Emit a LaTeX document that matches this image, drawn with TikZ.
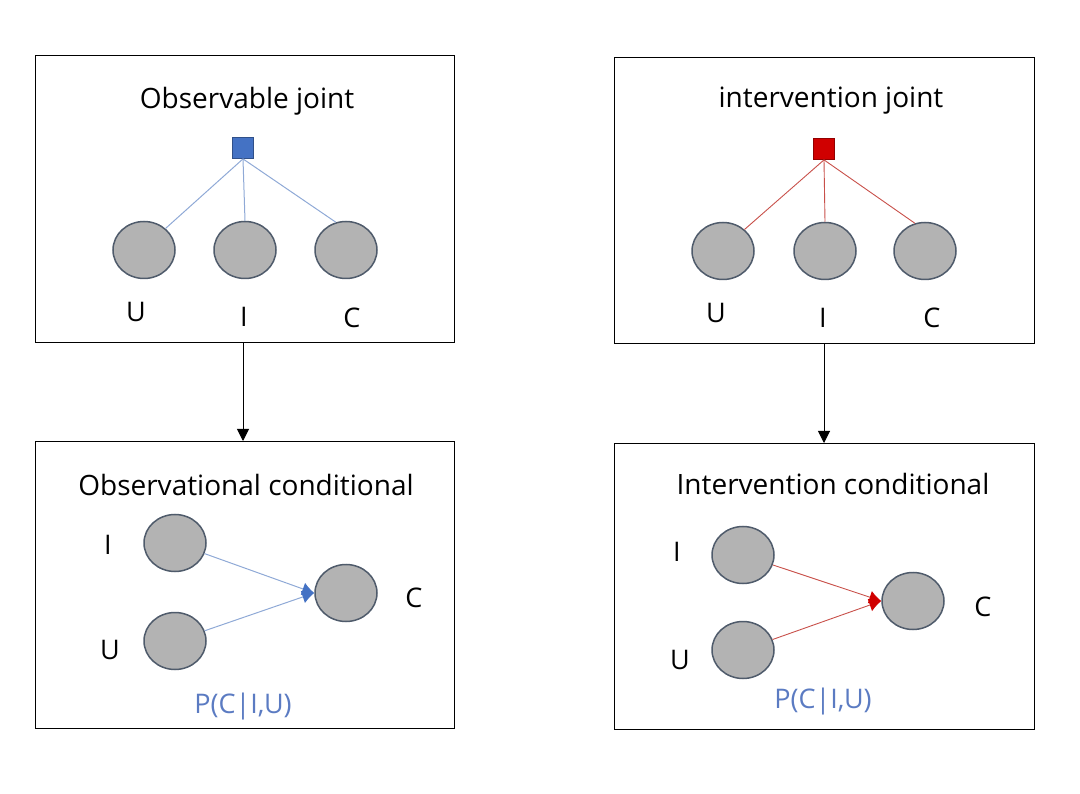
\documentclass[tikz,border=0pt]{standalone}
\usepackage{fontspec}
\setmainfont{Open Sans}
\usetikzlibrary{shapes.geometric,arrows.meta}
\definecolor{bsq}{HTML}{4472C4}
\definecolor{bedge}{HTML}{8FA9D6}
\definecolor{rsq}{HTML}{D00000}
\definecolor{redge}{HTML}{C8504A}
\definecolor{cfill}{HTML}{B3B3B3}
\definecolor{cdraw}{HTML}{4F5B6B}
\definecolor{ptext}{HTML}{5B7BC2}
\tikzset{
  panel/.style={draw=black, line width=1pt},
  var/.style={ellipse, draw=cdraw, line width=1.5pt, fill=cfill, minimum width=62pt, minimum height=57pt, inner sep=0pt},
  lbl/.style={font=\fontsize{27}{30}\selectfont, inner sep=0pt},
  ttl/.style={font=\fontsize{28}{32}\selectfont, inner sep=0pt},
  factor/.style={draw=#1!70!black, fill=#1, minimum size=21pt, inner sep=0pt, line width=0.8pt},
  bline/.style={draw=bedge, line width=1pt},
  rline/.style={draw=redge, line width=0.9pt},
  flow/.style={draw=black, line width=1pt, -{Triangle[length=12pt, width=12pt]}},
}
\begin{document}
\begin{tikzpicture}[x=1pt, y=-1pt]
\useasboundingbox (0,0) rectangle (1080,794);
% panels
\node[panel, minimum width=419pt, minimum height=287pt, anchor=north west, inner sep=0pt] (tl) at (35,55) {};
\node[panel, minimum width=420pt, minimum height=286pt, anchor=north west, inner sep=0pt] (tr) at (614,57) {};
\node[panel, minimum width=419pt, minimum height=287pt, anchor=north west, inner sep=0pt] (bl) at (35,441) {};
\node[panel, minimum width=420pt, minimum height=286pt, anchor=north west, inner sep=0pt] (br) at (614,443) {};

% top-left
\node[ttl] (tlt) at (247,101) {Observable joint};
\node[factor=bsq] (fb) at (243,148) {};
\node[var] (u1) at (144,250) {};
\node[var] (i1) at (245,250) {};
\node[var] (c1) at (346,250) {};
\node[lbl] (u1l) at (136,312) {U};
\node[lbl] (i1l) at (244,317) {I};
\node[lbl] (c1l) at (352,318) {C};
\draw[bline] (fb.south) -- (u1.45);
\draw[bline] (fb.south) -- (i1.north);
\draw[bline] (fb.south) -- (c1.110);

% top-right
\node[ttl] (trt) at (831,101) {intervention joint};
\node[factor=rsq] (fr) at (824,149) {};
\node[var] (u2) at (723,251) {};
\node[var] (i2) at (825,251) {};
\node[var] (c2) at (925,251) {};
\node[lbl] (u2l) at (716,313) {U};
\node[lbl] (i2l) at (823,318) {I};
\node[lbl] (c2l) at (932,318) {C};
\draw[rline] (fr.south) -- (u2.45);
\draw[rline] (fr.south) -- (i2.north);
\draw[rline] (fr.south) -- (c2.110);

% vertical arrows
\draw[flow] (tl.south -| fb) -- (bl.north -| fb);
\draw[flow] (tr.south -| fr) -- (br.north -| fr);

% bottom-left
\node[ttl] (blt) at (246,485) {Observational conditional};
\node[var] (i3) at (175,543) {};
\node[var] (u3) at (175,641) {};
\node[var] (c3) at (346,593) {};
\node[lbl] (i3l) at (108,545) {I};
\node[lbl] (u3l) at (110,650) {U};
\node[lbl] (c3l) at (414,598) {C};
\node[lbl, text=ptext] (p1) at (243,707) {P(C|I,U)};
\draw[bline, -{Latex[length=12pt, width=13pt, fill=bsq, color=bsq]}] (i3) -- (c3.west);
\draw[bline, -{Latex[length=12pt, width=13pt, fill=bsq, color=bsq]}] (u3) -- (c3.west);

% bottom-right
\node[ttl] (brt) at (833,484) {Intervention conditional};
\node[var] (i4) at (743,555) {};
\node[var] (u4) at (743,650) {};
\node[var] (c4) at (913,601) {};
\node[lbl] (i4l) at (677,552) {I};
\node[lbl] (u4l) at (680,660) {U};
\node[lbl] (c4l) at (983,607) {C};
\node[lbl, text=ptext] (p2) at (823,702) {P(C|I,U)};
\draw[rline, -{Latex[length=12pt, width=13pt, fill=rsq, color=rsq]}] (i4) -- (c4.west);
\draw[rline, -{Latex[length=12pt, width=13pt, fill=rsq, color=rsq]}] (u4) -- (c4.west);
\end{tikzpicture}
\end{document}
